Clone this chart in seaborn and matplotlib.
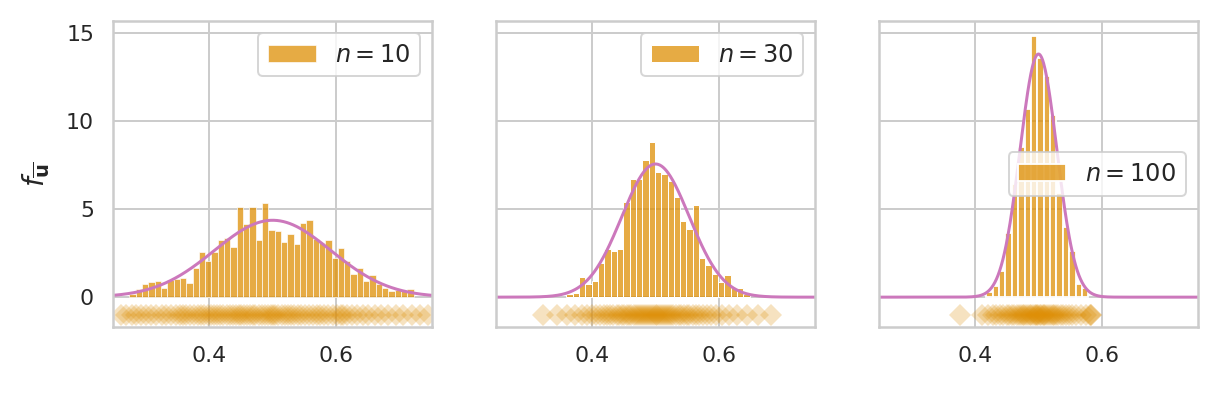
import numpy as np
import pandas as pd
import matplotlib
matplotlib.use("Agg")
import matplotlib.pyplot as plt
import seaborn as sns

# sample sizes shown in the three panels
sizes = [10, 30, 100]

# histogram bar heights (density), left to right
heights_10 = [0.17, 0.44, 0.72, 0.85, 0.90, 0.50, 0.97, 1.06, 1.10, 0.83,
              1.63, 2.56, 2.05, 2.56, 3.24, 3.39, 2.84, 5.13, 4.15, 5.10,
              3.24, 5.36, 3.80, 3.77, 3.14, 3.60, 3.00, 4.19, 4.41, 3.30,
              3.05, 3.24, 2.20, 2.82, 2.06, 1.30, 1.63, 0.93, 1.25, 0.74,
              0.51, 0.34, 0.40, 0.36, 0.45]
heights_30 = [0.19, 0.26, 1.15, 0.75, 0.91, 1.94, 2.72, 2.60, 2.74, 5.43,
              6.74, 6.74, 7.81, 8.83, 7.13, 7.02, 6.60, 5.72, 4.30, 3.85,
              5.21, 2.23, 1.81, 1.30, 0.85, 1.25, 0.51, 0.53, 0.19]
heights_100 = [0.30, 0.62, 1.47, 3.63, 6.43, 8.56, 10.7, 14.85, 13.6, 12.55,
               10.35, 5.90, 4.00, 2.60, 0.77, 0.53]

# left edge of the first bin and bin width for each panel
bin_start = [0.2755, 0.3604, 0.4182]
bin_width = [0.0099, 0.0099, 0.0100]

# sample means drawn as the diamond strip under each histogram (estimated)
rug_10 = [0.262, 0.271, 0.279, 0.286, 0.294, 0.301, 0.309, 0.318, 0.326, 0.333,
          0.341, 0.348, 0.355, 0.359, 0.364, 0.371, 0.377, 0.383, 0.388, 0.393,
          0.398, 0.403, 0.408, 0.413, 0.418, 0.423, 0.428, 0.433, 0.438, 0.443,
          0.447, 0.450, 0.455, 0.460, 0.464, 0.469, 0.473, 0.478, 0.483, 0.488,
          0.492, 0.497, 0.500, 0.504, 0.509, 0.514, 0.519, 0.524, 0.529, 0.534,
          0.539, 0.545, 0.551, 0.557, 0.563, 0.569, 0.575, 0.581, 0.587, 0.594,
          0.601, 0.607, 0.610, 0.616, 0.624, 0.632, 0.641, 0.650, 0.660, 0.670,
          0.681, 0.693, 0.705, 0.718, 0.731, 0.744]
rug_30 = [0.323, 0.345, 0.362, 0.374, 0.385, 0.393, 0.400, 0.407, 0.413, 0.419,
          0.424, 0.429, 0.434, 0.439, 0.443, 0.447, 0.451, 0.455, 0.459, 0.462,
          0.466, 0.469, 0.473, 0.476, 0.479, 0.482, 0.485, 0.488, 0.491, 0.494,
          0.497, 0.500, 0.503, 0.506, 0.509, 0.512, 0.515, 0.518, 0.521, 0.525,
          0.528, 0.532, 0.536, 0.540, 0.544, 0.549, 0.553, 0.558, 0.563, 0.568,
          0.574, 0.580, 0.587, 0.595, 0.604, 0.615, 0.628, 0.643, 0.660, 0.681]
rug_100 = [0.377, 0.412, 0.421, 0.428, 0.434, 0.440, 0.445, 0.450, 0.454, 0.458,
           0.462, 0.466, 0.469, 0.472, 0.475, 0.478, 0.481, 0.484, 0.486, 0.489,
           0.491, 0.494, 0.496, 0.498, 0.500, 0.502, 0.504, 0.507, 0.509, 0.511,
           0.514, 0.516, 0.519, 0.522, 0.525, 0.528, 0.531, 0.535, 0.539, 0.543,
           0.548, 0.553, 0.559, 0.566, 0.574, 0.580, 0.583, 0.583]

all_heights = [heights_10, heights_30, heights_100]
all_rugs = [rug_10, rug_30, rug_100]
legend_loc = ["upper right", "upper right", "center right"]

sns.set_theme(style="whitegrid")
pal = sns.color_palette("colorblind")
bar_color = pal[1]
curve_color = pal[4]

fig, axes = plt.subplots(1, 3, figsize=(1217 / 144, 395 / 144), dpi=144, sharey=True)
fig.subplots_adjust(left=0.0929, right=0.9844, bottom=0.172, top=0.947, wspace=0.2)

xs = np.linspace(0.25, 0.75, 400)
for ax, n, h, start, w, rug, loc in zip(axes, sizes, all_heights, bin_start,
                                         bin_width, all_rugs, legend_loc):
    edges = [start + w * i for i in range(len(h) + 1)]
    df = pd.DataFrame({"x": [e + w / 2 for e in edges[:-1]], "density": h})
    sns.histplot(data=df, x="x", weights="density", bins=edges, color=bar_color,
                 label=f"$n = {n}$", ax=ax)

    # normal approximation of the mean of n uniform(0, 1) variables
    sd = np.sqrt(1 / (12 * n))
    pdf = np.exp(-0.5 * ((xs - 0.5) / sd) ** 2) / (sd * np.sqrt(2 * np.pi))
    sns.lineplot(x=xs, y=pdf, color=curve_color, ax=ax)

    ax.plot(rug, [-1] * len(rug), "D", color=bar_color, alpha=0.25,
            markersize=8, markeredgewidth=0)

    ax.set_xlim(0.25, 0.75)
    ax.set_xticks([0.4, 0.6])
    ax.set_ylim(-1.7, 15.7)
    ax.set_yticks([0, 5, 10, 15])
    ax.set_xlabel("")
    ax.set_ylabel("")
    ax.legend(loc=loc, fontsize=12)

axes[0].set_ylabel(r"$f_{\overline{\mathbf{u}}}$", fontsize=14, labelpad=7)

plt.savefig("out.png", dpi=144)
